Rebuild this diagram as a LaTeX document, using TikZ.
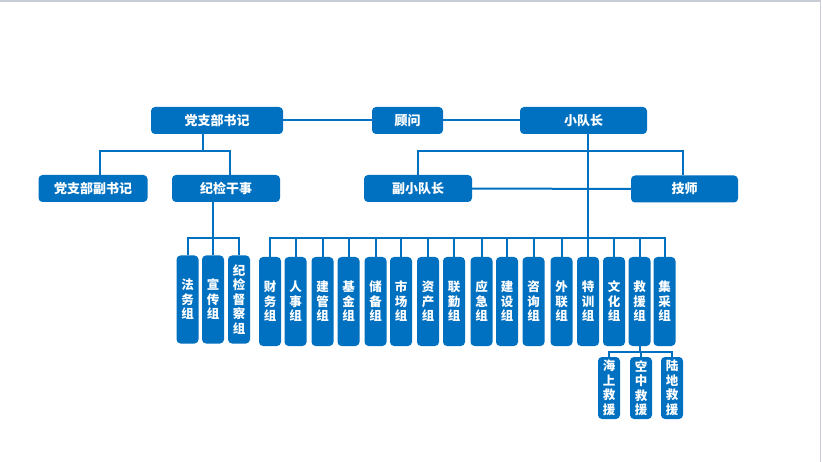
\documentclass[tikz,border=0pt]{standalone}
\usepackage{fontspec}
\newfontfamily\cjk{Noto Sans CJK SC}
\usetikzlibrary{calc,positioning}
\usepackage{xcolor}
\definecolor{orgblue}{HTML}{0070C0}
\definecolor{framegray}{HTML}{C8CCD4}
\newcommand{\grpw}{22pt}
\tikzset{
    boxsty/.style={fill=orgblue,rectangle,rounded corners=4pt,minimum height=27pt,inner sep=0pt,text=white,font=\cjk\bfseries\fontsize{13}{15}\selectfont,anchor=center},
    grpsty/.style={fill=orgblue,rectangle,rounded corners=4pt,minimum width=\grpw,minimum height=89pt,inner sep=0pt,align=center,text=white,font=\cjk\bfseries\fontsize{12.5}{14.5}\selectfont,anchor=center},
    rscsty/.style={grpsty,minimum height=62pt},
    linesty/.style={draw=orgblue,line width=2pt},
    framesty/.style={draw=framegray,line width=1.5pt},
}

\begin{document}
\begin{tikzpicture}[x=1pt,y=-1pt]
  \useasboundingbox (0,0) rectangle (822,462);
  \draw[framesty] (0,0.8) -- (820.5,0.8) -- (820.5,462);

  % top levels
  \node[boxsty,minimum width=132pt] (dzbsj) at (217,120.5) {党支部书记};
  \node[boxsty,minimum width=71pt] (gw) at (407.5,120.5) {顾问};
  \node[boxsty,minimum width=127pt] (xdz) at (583.5,120.5) {小队长};
  \node[boxsty,minimum width=109pt] (dzbfsj) at (93,188.5) {党支部副书记};
  \node[boxsty,minimum width=108pt] (jjgs) at (226,188.5) {纪检干事};
  \node[boxsty,minimum width=108pt] (fxdz) at (418,188.5) {副小队长};
  \node[boxsty,minimum width=107pt] (js) at (684.5,189) {技师};

  % groups
  \foreach \x/\t [count=\i] in {187.5/法\\务\\组, 213/宣\\传\\组, 239/纪\\检\\督\\察\\组}
    \node[grpsty,minimum height=88pt] (j\i) at (\x,299.5) {\t};
  \foreach \x/\t [count=\i] in {270/财\\务\\组, 295.5/人\\事\\组, 322.5/建\\管\\组, 348.5/基\\金\\组,
      375.5/储\\备\\组, 401/市\\场\\组, 428/资\\产\\组, 454/联\\勤\\组, 481.5/应\\急\\组,
      507/建\\设\\组, 533.5/咨\\询\\组, 561.5/外\\联\\组, 588/特\\训\\组, 614/文\\化\\组,
      639.5/救\\援\\组, 664.5/集\\采\\组}
    \node[grpsty] (g\i) at (\x,301.5) {\t};
  \foreach \x/\t [count=\i] in {609/海\\上\\救\\援, 641/空\\中\\救\\援, 672/陆\\地\\救\\援}
    \node[rscsty] (r\i) at (\x,388) {\t};

  % connectors
  \coordinate (pb) at (203,151);
  \coordinate (tb) at (588,151);
  \coordinate (jb) at (213,238);
  \coordinate (gb) at (588,238);
  \coordinate (rb) at (640,352);
  \draw[linesty] (dzbsj) -- (gw);
  \draw[linesty] (gw) -- (xdz);
  \draw[linesty] (dzbsj.south -| pb) -- (pb);
  \draw[linesty] ([xshift=7pt]dzbfsj.north) |- (pb) -| ([xshift=4pt]jjgs.north);
  \draw[linesty] (fxdz.north) |- (tb) -| ([xshift=-1.5pt]js.north);
  \draw[linesty] (fxdz) -- (js);
  \draw[linesty] (xdz.south -| gb) -- (gb);
  \draw[linesty] (g1.north) |- (gb) -| (g16.north);
  \foreach \i in {2,...,15}
    \draw[linesty] (g\i.north) -- (g\i.north |- gb);
  \draw[linesty] (jjgs.south -| jb) -- (jb);
  \draw[linesty] (j1.north) |- (jb) -| (j3.north);
  \draw[linesty] (j2.north) -- (jb);
  \draw[linesty] (g15.south -| rb) -- (rb);
  \draw[linesty] (r1.north) |- (rb) -| (r3.north);
  \draw[linesty] (r2.north) -- (r2.north |- rb);
\end{tikzpicture}
\end{document}
